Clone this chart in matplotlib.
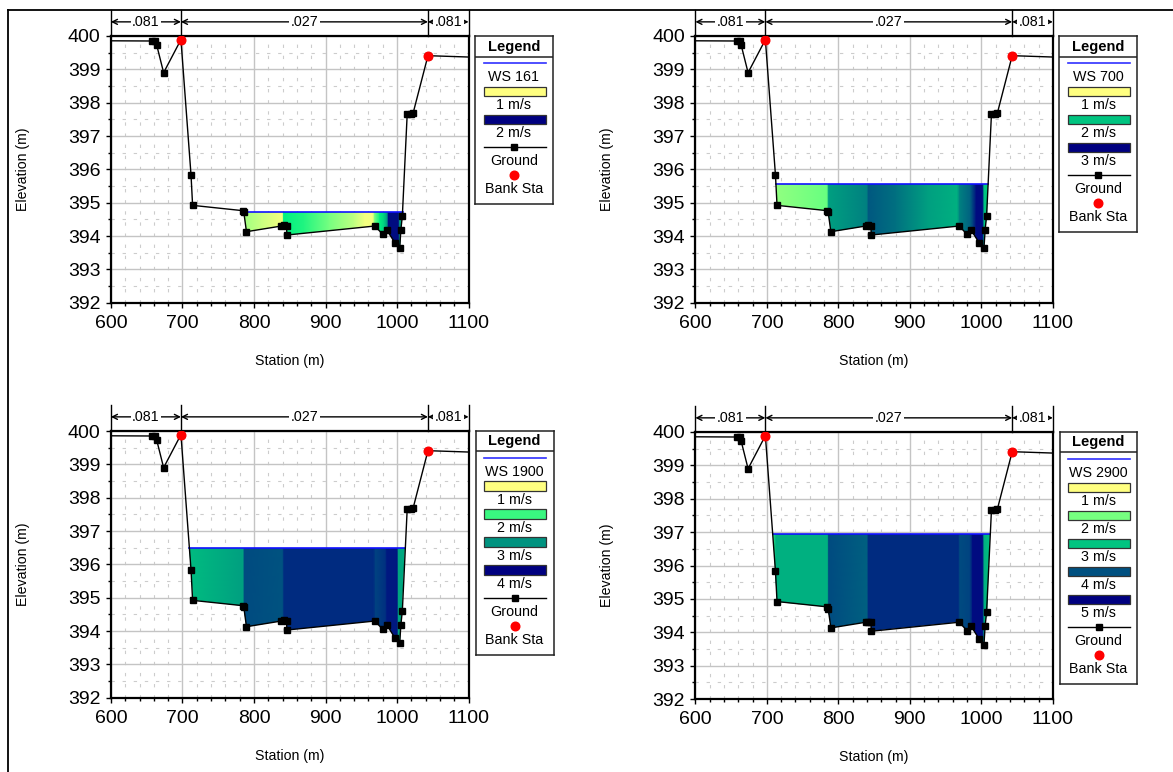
import numpy as np
import matplotlib
matplotlib.use("Agg")
import matplotlib.pyplot as plt
import matplotlib.transforms as mtransforms
from matplotlib.colors import LinearSegmentedColormap, Normalize
from matplotlib.lines import Line2D
from matplotlib.patches import Rectangle

plt.rcParams["font.family"] = ["Liberation Sans", "DejaVu Sans"]

W, H = 1173, 772

# ground profile (station m, elevation m)
station = [560, 657.9, 662, 664, 673.7, 697.9, 712, 714.2, 784.7, 785.8, 789.5,
           838.4, 841.5, 845.5, 846.0, 969, 980, 985.8, 996.8, 1003.7, 1005.3,
           1007.4, 1014.2, 1019.5, 1022.6, 1043.2, 1140]
elevation = [399.86, 399.85, 399.84, 399.73, 398.90, 399.89, 395.83, 394.92, 394.76,
             394.71, 394.13, 394.30, 394.32, 394.30, 394.03, 394.30, 394.05, 394.18,
             393.80, 393.63, 394.18, 394.61, 397.67, 397.66, 397.70, 399.41, 399.34]
bank_sta = [697.9, 1043.2]
bank_elev = [399.89, 399.41]

n_edges = [600, 697.9, 1043.2, 1100]
n_values = [".081", ".027", ".081"]

profiles = ["WS 161", "WS 700", "WS 1900", "WS 2900"]
ws_elev = [394.73, 395.56, 396.50, 396.95]
vel_levels = [[1, 2], [1, 2, 3], [1, 2, 3, 4], [1, 2, 3, 4, 5]]

# horizontal velocity distribution across the channel (m/s)
vsta_161 = [784, 810, 840, 841.5, 870, 905, 940, 955, 966, 969, 976, 982, 986, 988, 1002, 1004, 1010]
vel_161 = [1.18, 1.10, 1.02, 1.40, 1.36, 1.25, 1.12, 1.02, 1.02, 1.25, 1.40, 1.48, 1.65, 1.95, 1.95, 1.62, 1.55]
vsta_700 = [712, 784, 786.5, 840, 842, 880, 925, 966, 970, 985, 993, 1002, 1004, 1011]
vel_700 = [1.40, 1.56, 2.30, 2.38, 2.48, 2.42, 2.30, 2.10, 2.38, 2.46, 2.90, 2.90, 2.00, 1.96]
vsta_1900 = [709, 785, 786.5, 840, 842, 967, 970, 984, 986, 1000, 1002, 1013]
vel_1900 = [2.56, 2.95, 3.28, 3.24, 3.46, 3.46, 3.31, 3.40, 3.70, 3.70, 2.86, 2.74]
vsta_2900 = [707, 713, 785, 786.5, 840, 842, 968, 970, 984, 988, 1002, 1004, 1014]
vel_2900 = [2.32, 3.20, 3.20, 4.04, 3.92, 4.28, 4.28, 4.04, 4.08, 4.80, 4.80, 3.20, 3.00]
vel_sta = [vsta_161, vsta_700, vsta_1900, vsta_2900]
vel_val = [vel_161, vel_700, vel_1900, vel_2900]

CMAP = LinearSegmentedColormap.from_list("hecras", [
    (0.00, "#FFFF80"), (0.28, "#66FF80"), (0.40, "#00F080"), (0.55, "#00B080"),
    (0.65, "#00A080"), (0.73, "#006080"), (0.80, "#003080"), (1.00, "#000080")])

# panel frames in pixels: left, top, right, bottom
panel_px = [(110.9, 36, 468.6, 302.7), (695.4, 36, 1052.8, 302.7),
            (110.9, 431, 468.6, 697.7), (695.4, 432, 1052.8, 699)]
legend_px = [(475, 36), (1059.3, 36), (475.7, 430.7), (1059.6, 431.9)]
LEG_W = 77.8


def fig_rect(x0, y0, x1, y1):
    return [x0 / W, 1 - y1 / H, (x1 - x0) / W, (y1 - y0) / H]


def draw_panel(ax, i):
    ws = ws_elev[i]
    norm = Normalize(1, vel_levels[i][-1])
    ax.set_xlim(600, 1100)
    ax.set_ylim(392, 400)
    ax.set_xticks(range(600, 1101, 100))
    ax.set_xticks(range(600, 1101, 20), minor=True)
    ax.set_yticks(range(392, 401))
    ax.set_yticks(np.arange(392, 400.1, 0.5), minor=True)
    ax.set_axisbelow(True)
    ax.grid(which="major", color="#c4c4c4", lw=1.0)
    ax.grid(which="minor", color="#cccccc", lw=0.8, ls=(0, (3, 7)))
    ax.tick_params(which="major", length=3.5, width=1, labelsize=14, pad=4)
    ax.tick_params(axis="x", which="major", pad=5)
    ax.tick_params(which="minor", length=2.3, width=1)
    for sp in ax.spines.values():
        sp.set_linewidth(1.6)

    elev = np.array(elevation)
    poly = ax.fill_between(station, elev, ws, where=elev < ws, interpolate=True,
                           facecolor="none", edgecolor="none")
    path = poly.get_paths()[0]
    xs = path.vertices[:, 0]

    vs = np.array(vel_sta[i], dtype=float)
    X = np.vstack([vs, vs])
    Y = np.vstack([np.full(len(vs), 392.0), np.full(len(vs), ws)])
    C = np.vstack([vel_val[i], vel_val[i]])
    mesh = ax.pcolormesh(X, Y, C, cmap=CMAP, norm=norm, shading="gouraud", zorder=2)
    mesh.set_clip_path(path, ax.transData)

    ax.plot([xs.min(), xs.max()], [ws, ws], color="#1010ff", lw=1.2, zorder=3)
    ax.plot(station, elevation, color="black", lw=1, marker="s", ms=4.3, zorder=4)
    ax.plot(bank_sta, bank_elev, "o", color="red", ms=6.2, mec="red", zorder=5)

    # manning's n band above the frame
    blend = mtransforms.blended_transform_factory(ax.transData, ax.transAxes)
    for e in n_edges:
        ax.plot([e, e], [1, 1.098], transform=blend, clip_on=False, color="black", lw=1)
    for k, lab in enumerate(n_values):
        a, b = n_edges[k], n_edges[k + 1]
        ax.annotate("", xy=(b, 1.053), xytext=(a, 1.053), xycoords=blend, textcoords=blend,
                    arrowprops=dict(arrowstyle="<->", lw=1, color="black",
                                    shrinkA=0, shrinkB=0, mutation_scale=9))
        ax.text((a + b) / 2, 1.053, lab, transform=blend, ha="center", va="center",
                fontsize=10.3, bbox=dict(boxstyle="square,pad=0.1", fc="white", ec="none"))

    ax.text(0.5, -0.217, "Station (m)", transform=ax.transAxes, ha="center",
            va="center", fontsize=10.2)
    ax.text(-0.247, 0.5, "Elevation (m)", transform=ax.transAxes, ha="center",
            va="center", rotation=90, fontsize=10.2)


def draw_legend(fig, i):
    levels = vel_levels[i]
    norm = Normalize(1, levels[-1])
    n_items = 6 + 2 * len(levels)
    h = 27.3 + 14 * (n_items - 1) + 15
    x0, y0 = legend_px[i]
    lax = fig.add_axes(fig_rect(x0, y0, x0 + LEG_W, y0 + h))
    lax.set_xlim(0, LEG_W)
    lax.set_ylim(h, 0)
    lax.set_xticks([])
    lax.set_yticks([])
    for sp in lax.spines.values():
        sp.set_linewidth(1.1)
        sp.set_color("#222222")
    cx = LEG_W / 2
    lx0, lx1 = 8.6, 70.7
    lax.text(cx, 10.5, "Legend", ha="center", va="center", fontsize=10.5, fontweight="bold")
    lax.plot([0, LEG_W], [20.5, 20.5], color="#222222", lw=1.1)
    ys = [27.3 + 14 * k for k in range(n_items)]
    lax.plot([lx0, lx1], [ys[0], ys[0]], color="#3030ff", lw=1.2)
    lax.text(cx, ys[1], profiles[i], ha="center", va="center", fontsize=10.3)
    k = 2
    for lvl in levels:
        lax.add_patch(Rectangle((lx0, ys[k] - 4.6), lx1 - lx0, 9.2,
                                facecolor=CMAP(norm(lvl)), edgecolor="#333333", lw=0.9))
        lax.text(cx, ys[k + 1], f"{lvl} m/s", ha="center", va="center", fontsize=10.3)
        k += 2
    lax.plot([lx0, lx1], [ys[k], ys[k]], color="black", lw=1)
    lax.plot([cx], [ys[k]], "s", color="black", ms=4.3)
    lax.text(cx, ys[k + 1], "Ground", ha="center", va="center", fontsize=10.3)
    lax.plot([cx], [ys[k + 2]], "o", color="red", ms=6.2)
    lax.text(cx, ys[k + 3], "Bank Sta", ha="center", va="center", fontsize=10.3)


fig = plt.figure(figsize=(W / 100, H / 100), dpi=100)
for i in range(4):
    ax = fig.add_axes(fig_rect(*panel_px[i]))
    draw_panel(ax, i)
    draw_legend(fig, i)

# outer frame (left and top edges visible)
fig.add_artist(Line2D([8 / W, 8 / W], [0, 1 - 10 / H], color="black", lw=1.3))
fig.add_artist(Line2D([8 / W, 1], [1 - 10 / H, 1 - 10 / H], color="black", lw=1.3))

fig.savefig("out.png", dpi=100)
